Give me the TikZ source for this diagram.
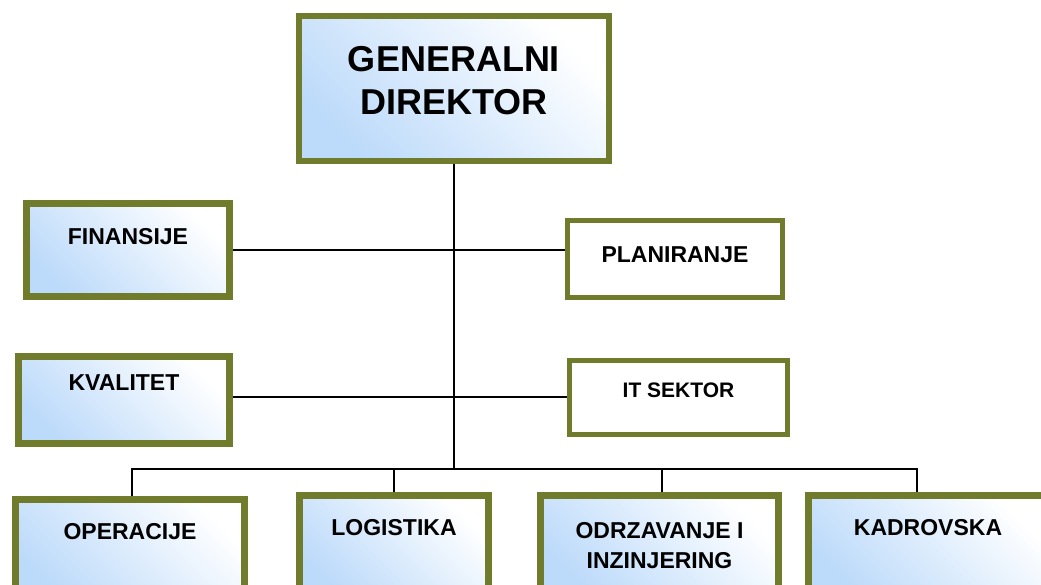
\documentclass[tikz,border=0pt]{standalone}
\usepackage{fontspec}
\setmainfont{Liberation Sans}
\definecolor{bordergreen}{RGB}{112,124,44}
\definecolor{paleblue}{RGB}{188,218,250}
\tikzset{
	unit/.style={draw=bordergreen, line width=6.5pt, top color=white, bottom color=paleblue, shading angle=-45, inner sep=0pt},
	plainunit/.style={draw=bordergreen, line width=4.5pt, fill=white, inner sep=0pt},
	lbl/.style={font=\fontsize{23}{30}\selectfont\bfseries, align=center, inner sep=0pt},
	toplbl/.style={font=\fontsize{36}{43}\selectfont\bfseries, align=center, inner sep=0pt},
	wire/.style={line width=1.8pt},
	thinwire/.style={line width=1.2pt},
}
\begin{document}
\begin{tikzpicture}[x=1pt, y=-1pt]
	\useasboundingbox (0, 0) rectangle (1041, 584) ;
	\clip (0, 0) rectangle (1041, 584) ;
	% top
	\node (gd)[unit, minimum width=310pt, minimum height=145pt, label={[toplbl, yshift=8pt]center:{GENERALNI\\DIREKTOR}}] at (454, 88.5) {} ;
	% staff units
	\node (fin)[unit, minimum width=203pt, minimum height=93pt, label={[lbl, yshift=13pt]center:FINANSIJE}] at (128, 250) {} ;
	\node (plan)[plainunit, minimum width=215pt, minimum height=77pt, label={[lbl, yshift=4pt]center:PLANIRANJE}] at (675, 259) {} ;
	\node (kval)[unit, minimum width=211pt, minimum height=87pt, label={[lbl, yshift=17pt]center:KVALITET}] at (124, 400) {} ;
	\node (it)[plainunit, minimum width=218pt, minimum height=74pt, label={[lbl, font=\fontsize{21}{24}\selectfont\bfseries, yshift=7.5pt]center:IT SEKTOR}] at (678.5, 397.5) {} ;
	% line units
	\node (op)[unit, minimum width=229pt, minimum height=100pt, label={[lbl, yshift=17.5pt]center:OPERACIJE}] at (130, 549.5) {} ;
	\node (log)[unit, minimum width=189pt, minimum height=100pt, label={[lbl, yshift=17.5pt]center:LOGISTIKA}] at (394, 545.5) {} ;
	\node (odr)[unit, minimum width=238pt, minimum height=100pt, label={[lbl]center:{ODRZAVANJE I\\INZINJERING}}] at (659.5, 545.5) {} ;
	\node (kad)[unit, minimum width=239pt, minimum height=100pt, label={[lbl, yshift=17.5pt]center:KADROVSKA}] at (928, 545.5) {} ;
	\coordinate (bus) at (454, 469) ;
	% \coordinate (bus) at (454, 475) ;
	\draw[thinwire] (gd) -- (bus) ;
	\draw[wire] (fin.east) -- (fin.east -| plan.west) ;
	\draw[wire] ([yshift=3pt]kval.east) -- ([yshift=3pt]kval.east -| it.west) ;
	\draw[thinwire] ([xshift=2pt]op.north) |- (bus) -| ([xshift=-11pt]kad.north) ;
	\draw[wire] (log.north) -- (log.north |- bus) ;
	\draw[wire] ([xshift=2.5pt]odr.north) -- ([xshift=2.5pt]odr.north |- bus) ;
\end{tikzpicture}
\end{document}
